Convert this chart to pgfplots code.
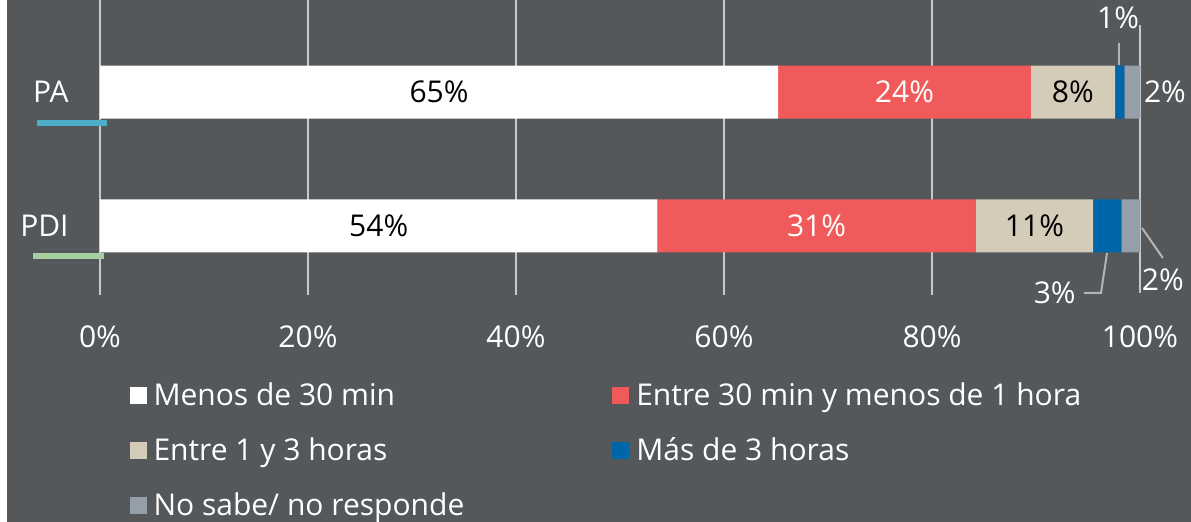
\documentclass[border=0pt]{standalone}
\usepackage{fontspec}
\setmainfont{Open Sans}
\usepackage{pgfplots}
\pgfplotsset{compat=1.18}
\definecolor{bgdark}{HTML}{54585A}
\definecolor{gridgray}{HTML}{C8C8C8}
\definecolor{leadgray}{HTML}{B4B4B4}
\definecolor{cwhite}{HTML}{FFFFFF}
\definecolor{cred}{HTML}{F15A5A}
\definecolor{cbeige}{HTML}{D4CCB9}
\definecolor{cblue}{HTML}{0066AA}
\definecolor{cgray}{HTML}{949FA9}
\definecolor{lineteal}{HTML}{4BADC7}
\definecolor{linegreen}{HTML}{A5CF9F}

\pgfplotstableread{
y   menos30  entre30  entre1  mas3  nosabe
0   53.6     30.6     11.3    2.7   1.8
1   65.2     24.3     8.1     0.9   1.5
}\datos

\begin{document}
\begin{tikzpicture}[font=\fontsize{15pt}{18pt}\selectfont]
\useasboundingbox (0,0) rectangle (595.5pt,-261pt);
\fill[white] (0,0) rectangle (3.5pt,-261pt);
\fill[bgdark] (3.5pt,0) rectangle (595.5pt,-261pt);
\begin{axis}[
    at={(50pt,0pt)}, anchor=north west,
    scale only axis,
    width=520pt, height=147.5pt,
    xbar stacked,
    bar width=26.5pt,
    xmin=0, xmax=100,
    ymin=-0.515, ymax=1.687,
    xtick={0,20,40,60,80},
    xticklabels={0\%,20\%,40\%,60\%,80\%},
    extra x ticks={100},
    extra x tick labels={100\%},
    extra x tick style={grid=none},
    ytick={0,1},
    yticklabels={PDI,PA},
    xmajorgrids,
    grid style={draw=gridgray, line width=1pt},
    axis line style={draw=none},
    major tick length=0pt,
    tick label style={text=white},
    xticklabel style={anchor=base, yshift=-26.5pt},
    yticklabel style={anchor=east, inner sep=0pt, xshift=-15.5pt},
    clip=false,
    point meta=rawx,
    /pgf/number format/assume math mode=true,
    nodes near coords style={font=\fontsize{15pt}{18pt}\selectfont},
    legend columns=2,
    legend cell align=left,
    legend style={
        at={(0.028,-0.287)}, anchor=north west,
        draw=none, fill=none, text=white,
        inner sep=0pt,
        row sep=11.5pt,
        nodes={inner sep=1.5pt},
        /tikz/column 1/.style={column sep=2pt},
        /tikz/column 2/.style={column sep=72.5pt},
        /tikz/column 3/.style={column sep=2pt},
    },
    legend image code/.code={\fill[#1] (0pt,-4.25pt) rectangle (8.5pt,4.25pt);},
]
\addplot[fill=cwhite, draw=none, nodes near coords={\pgfmathprintnumber[fixed,precision=0,assume math mode=true]{\pgfplotspointmeta}\%}, nodes near coords style={text=black}] table[x=menos30, y=y] {\datos};
\addplot[fill=cred, draw=none, nodes near coords={\pgfmathprintnumber[fixed,precision=0,assume math mode=true]{\pgfplotspointmeta}\%}, nodes near coords style={text=white}] table[x=entre30, y=y] {\datos};
\addplot[fill=cbeige, draw=none, nodes near coords={\pgfmathprintnumber[fixed,precision=0,assume math mode=true]{\pgfplotspointmeta}\%}, nodes near coords style={text=black}] table[x=entre1, y=y] {\datos};
\addplot[fill=cblue, draw=none] table[x=mas3, y=y] {\datos};
\addplot[fill=cgray, draw=none] table[x=nosabe, y=y] {\datos};
\legend{Menos de 30 min, Entre 30 min y menos de 1 hora, Entre 1 y 3 horas, Más de 3 horas, No sabe/ no responde}

% 100% line (shorter at the top)
\draw[gridgray, line width=1pt] (axis cs:100,1.5) -- (axis cs:100,-0.5);
% category underlines
\draw[lineteal, line width=3pt] (axis cs:-6.06,0.769) -- (axis cs:0.67,0.769);
\draw[linegreen, line width=3pt] (axis cs:-6.44,-0.224) -- (axis cs:0.38,-0.224);
% leader lines
\draw[leadgray, line width=1pt] (axis cs:97.98,1.366) -- (axis cs:97.98,1.2015);
\draw[leadgray, line width=1pt] (axis cs:96.83,-0.2015) -- (axis cs:96.25,-0.5) -- (axis cs:94.6,-0.5);
\draw[leadgray, line width=1pt] (axis cs:100.2,-0.015) -- (axis cs:102.2,-0.239);
% small segment labels
\node[text=white] at (axis cs:97.9,1.552) {1\%};
\node[text=white] at (axis cs:102.4,1) {2\%};
\node[text=white] at (axis cs:91.8,-0.5) {3\%};
\node[text=white] at (axis cs:102.2,-0.403) {2\%};
\end{axis}
\end{tikzpicture}
\end{document}
